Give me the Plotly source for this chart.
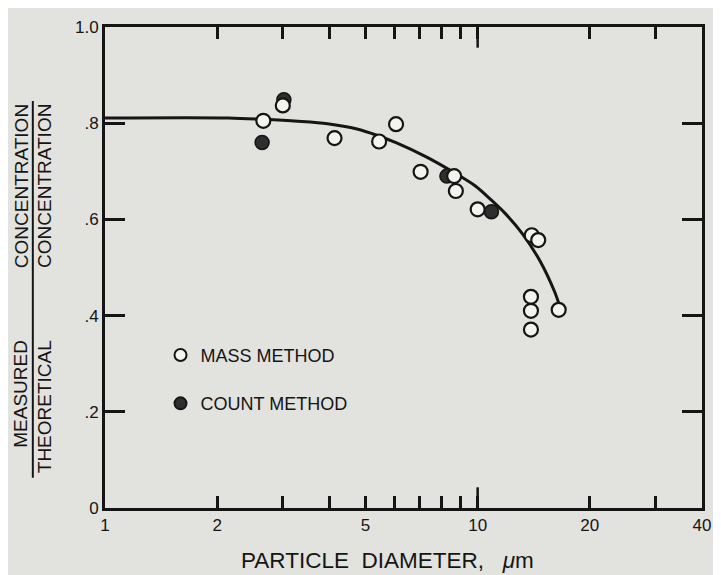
import plotly.graph_objects as go

# ---- data ----
mass_x = [2.66, 3.0, 4.13, 5.44, 6.04, 7.03, 8.65, 8.74, 10.0, 13.97, 14.54, 13.9, 13.9, 13.9, 16.5]
mass_y = [0.805, 0.837, 0.769, 0.762, 0.798, 0.699, 0.690, 0.659, 0.621, 0.567, 0.557, 0.439, 0.410, 0.371, 0.412]

count_x = [2.64, 3.02, 8.27, 10.89]
count_y = [0.760, 0.849, 0.690, 0.616]

curve_x = [1.0, 2.145, 2.657, 3.29, 3.953, 4.746, 5.363, 6.06, 7.278, 8.531, 9.879, 10.89, 11.87, 13.16, 14.69, 16.1, 16.5]
curve_y = [0.811, 0.811, 0.808, 0.804, 0.799, 0.788, 0.775, 0.759, 0.730, 0.700, 0.669, 0.640, 0.612, 0.571, 0.514, 0.449, 0.426]

x_tickvals = [1, 2, 3, 4, 5, 6, 7, 8, 9, 10, 20, 30, 40]
x_ticktext = ["1", "2", "", "", "5", "", "", "", "", "10", "20", "", "40"]
y_tickvals = [0, 0.2, 0.4, 0.6, 0.8, 1.0]
y_ticktext = ["0", ".2", ".4", ".6", ".8", "1.0"]
tall_ticks = [10]

INK = "#151515"
BG = "#e2e2de"
FONT = "Liberation Sans, Arial, sans-serif"

fig = go.Figure()

fig.add_trace(go.Scatter(
    x=curve_x, y=curve_y, mode="lines",
    line=dict(color=INK, width=3, shape="spline", smoothing=0.8),
    showlegend=False, hoverinfo="skip"))

fig.add_trace(go.Scatter(
    x=count_x, y=count_y, mode="markers", name="COUNT METHOD",
    legendgroup="count", legendrank=2,
    marker=dict(symbol="circle", size=14, color="#2e2e2e",
                line=dict(color=INK, width=1.5))))

fig.add_trace(go.Scatter(
    x=mass_x, y=mass_y, mode="markers", name="MASS METHOD",
    legendgroup="mass", legendrank=1,
    marker=dict(symbol="circle", size=14, color="#f3f3ef",
                line=dict(color=INK, width=2.2))))

# taller ticks at decade 10 (bottom and top)
shapes = []
for tv in tall_ticks:
    shapes.append(dict(type="line", xref="x", yref="paper", x0=tv, x1=tv,
                       y0=0, y1=0.043, line=dict(color=INK, width=2.5)))
    shapes.append(dict(type="line", xref="x", yref="paper", x0=tv, x1=tv,
                       y0=1, y1=1 - 0.043, line=dict(color=INK, width=2.5)))
# fraction bar of the y-axis title
shapes.append(dict(type="line", xref="paper", yref="paper",
                   x0=-0.1209, x1=-0.1209, y0=0.063, y1=0.846,
                   line=dict(color=INK, width=2)))

annotations = [
    dict(text="CONCENTRATION", x=-0.1407, y=0.669),
    dict(text="MEASURED", x=-0.1407, y=0.2375),
    dict(text="CONCENTRATION", x=-0.101, y=0.669),
    dict(text="THEORETICAL", x=-0.101, y=0.211),
]
for a in annotations:
    a.update(xref="paper", yref="paper", textangle=-90, showarrow=False,
             xanchor="center", yanchor="middle",
             font=dict(family=FONT, size=19, color=INK))
annotations.append(dict(text="PARTICLE  DIAMETER,   <i>μ</i>m", x=0.4735, y=-0.110,
                        xref="paper", yref="paper", showarrow=False,
                        xanchor="center", yanchor="middle",
                        font=dict(family=FONT, size=22.5, color=INK)))

# page body has an 8px margin, so the figure is sized/placed to compensate
fig.update_layout(
    width=713, height=567,
    margin=dict(l=97, r=12, t=10, b=67),
    paper_bgcolor=BG, plot_bgcolor=BG,
    font=dict(family=FONT, color=INK),
    shapes=shapes, annotations=annotations,
    legend=dict(x=0.093, y=0.356, xanchor="left", yanchor="top",
                bgcolor="rgba(0,0,0,0)", traceorder="grouped",
                tracegroupgap=22, font=dict(family=FONT, size=18, color=INK),
                itemsizing="constant"),
    xaxis=dict(type="log", range=[0, 1.60206], tickmode="array",
               tickvals=x_tickvals, ticktext=x_ticktext,
               ticks="inside", ticklen=12, tickwidth=2.5, tickcolor=INK,
               showline=True, linewidth=3, linecolor=INK, mirror="ticks",
               showgrid=False, zeroline=False,
               tickfont=dict(family=FONT, size=17, color=INK)),
    yaxis=dict(range=[0, 1.0], tickmode="array",
               tickvals=y_tickvals, ticktext=y_ticktext,
               ticks="inside", ticklen=20, tickwidth=2.5, tickcolor=INK,
               showline=True, linewidth=3, linecolor=INK, mirror="ticks",
               showgrid=False, zeroline=False,
               tickfont=dict(family=FONT, size=17, color=INK)),
)

fig.write_html("out.html")
